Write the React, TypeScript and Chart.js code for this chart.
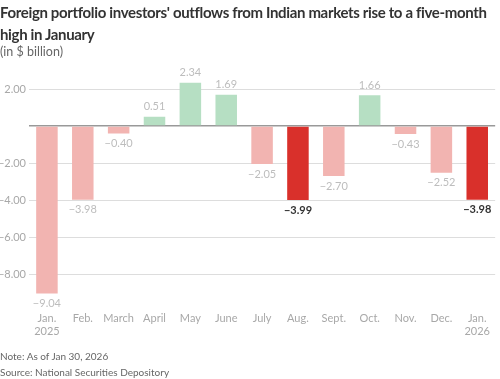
import React, { useEffect, useRef } from "react";
import { Chart, registerables } from "chart.js";

Chart.register(...registerables);

const categories: (string | string[])[] = [
  ["Jan.", "2025"], "Feb.", "March", "April", "May", "June", "July",
  "Aug.", "Sept.", "Oct.", "Nov.", "Dec.", ["Jan.", "2026"],
];
const flows = [-9.04, -3.98, -0.4, 0.51, 2.34, 1.69, -2.05, -3.99, -2.7, 1.66, -0.43, -2.52, -3.98];
const highlighted = [false, false, false, false, false, false, false, true, false, false, false, false, true];
const yTicks = [-8, -6, -4, -2, 0, 2];

const FONT = "Lato, 'Open Sans', sans-serif";
const fmt = (v: number) => (v < 0 ? "\u2212" : "") + Math.abs(v).toFixed(2);

const labelPlugin = {
  id: "barLabels",
  afterDatasetsDraw(chart: any) {
    const ctx = chart.ctx;
    const meta = chart.getDatasetMeta(0);
    ctx.save();
    ctx.textAlign = "center";
    ctx.textBaseline = "middle";
    meta.data.forEach((bar: any, i: number) => {
      const v = flows[i];
      const hi = highlighted[i];
      ctx.font = (hi ? "bold " : "") + "11px " + FONT;
      ctx.fillStyle = hi ? "#333333" : "#bdbdbd";
      const y = v >= 0 ? bar.y - 10 : bar.y + 10;
      ctx.fillText(fmt(v), bar.x, y);
    });
    ctx.restore();
  },
};

export default function App() {
  const ref = useRef<HTMLCanvasElement>(null);
  useEffect(() => {
    document.body.style.margin = "0";
    const chart = new Chart(ref.current!, {
      type: "bar",
      data: {
        labels: categories,
        datasets: [
          {
            data: flows,
            backgroundColor: flows.map((v, i) =>
              highlighted[i] ? "#d9302b" : v >= 0 ? "#b6dfc3" : "#f2b4b1"
            ),
            barPercentage: 0.6,
            categoryPercentage: 1,
          },
        ],
      },
      options: {
        animation: false,
        responsive: false,
        layout: { padding: { top: 65, bottom: 37, left: 0, right: 0 } },
        plugins: { legend: { display: false }, tooltip: { enabled: false } },
        scales: {
          x: {
            grid: { display: false, drawTicks: false },
            border: { display: false },
            ticks: {
              color: "#a8a8a8",
              font: { family: FONT, size: 11 },
              padding: 10,
              maxRotation: 0,
              autoSkip: false,
            },
            afterFit: (s: any) => { s.height = 40; },
          },
          y: {
            min: -9.5,
            max: 3.3,
            afterBuildTicks: (s: any) => { s.ticks = yTicks.map((v) => ({ value: v })); },
            afterFit: (s: any) => { s.width = 29; },
            grid: {
              color: (c: any) => (c.tick && c.tick.value === 0 ? "#999999" : "#dddddd"),
              lineWidth: (c: any) => (c.tick && c.tick.value === 0 ? 1.5 : 1),
              drawTicks: false,
            },
            border: { display: false },
            ticks: {
              color: "#a8a8a8",
              font: { family: FONT, size: 11 },
              padding: 3,
              callback: (v: any) => (v === 0 ? "" : fmt(Number(v))),
            },
          },
        },
      },
      plugins: [labelPlugin],
    });
    return () => chart.destroy();
  }, []);

  return (
    <div style={{ position: "relative", width: 500, height: 379, fontFamily: FONT, background: "#fff" }}>
      <canvas ref={ref} width={500} height={379} style={{ position: "absolute", left: 0, top: 0 }} />
      <div style={{ position: "absolute", left: 0, top: 1, width: 500, fontSize: 15, fontWeight: 700, lineHeight: "22px", letterSpacing: "-0.35px", color: "#333", whiteSpace: "nowrap" }}>
        Foreign portfolio investors' outflows from Indian markets rise to a five-month
        <br />
        high in January
      </div>
      <div style={{ position: "absolute", left: 0, top: 44, fontSize: 12.5, color: "#666" }}>(in $ billion)</div>
      <div style={{ position: "absolute", left: 0, top: 350, fontSize: 10, color: "#666" }}>Note: As of Jan 30, 2026</div>
      <div style={{ position: "absolute", left: 0, top: 366, fontSize: 10, color: "#666" }}>Source: National Securities Depository</div>
    </div>
  );
}
